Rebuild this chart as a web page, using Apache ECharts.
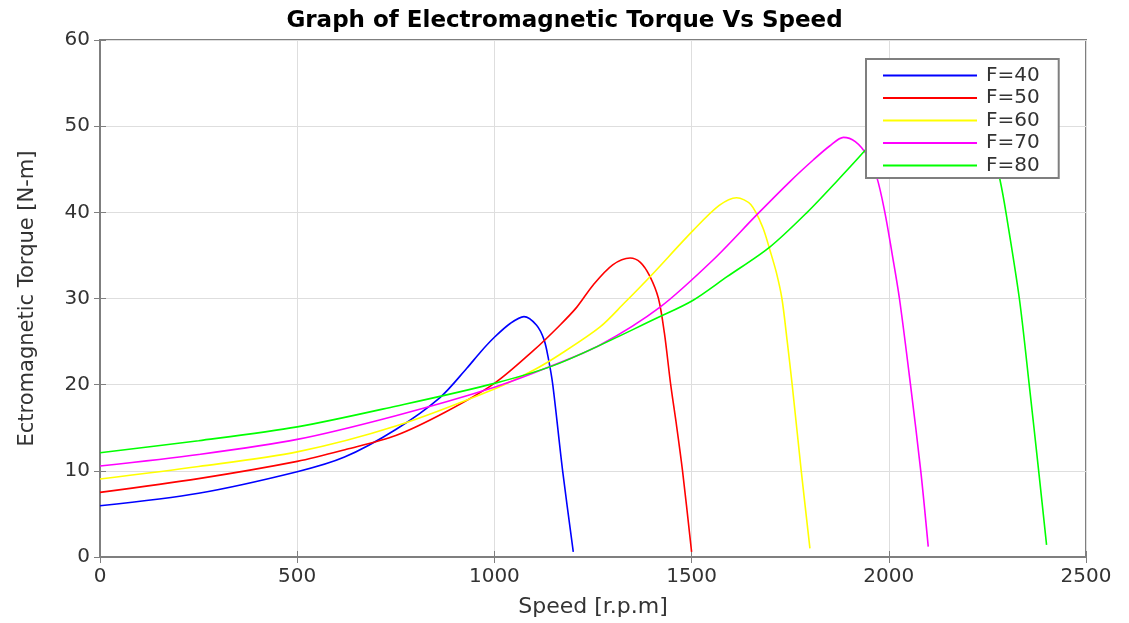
<!DOCTYPE html>
<html>
<head>
<meta charset="utf-8">
<script src="https://cdn.jsdelivr.net/npm/echarts@6/dist/echarts.min.js"></script>
<style>
  html, body { margin: 0; padding: 0; background: #fff; }
  #main { width: 1129px; height: 623px; }
</style>
</head>
<body>
<div id="main"></div>
<script>
// values (speed in r.p.m, torque in N-m)
var speed40 = [0, 250, 500, 620, 750, 862, 930, 965, 1000, 1040, 1075, 1107, 1126, 1137, 1148, 1173, 1200];
var torque40 = [5.95, 7.4, 9.9, 11.6, 14.8, 18.5, 21.9, 23.8, 25.5, 27.1, 27.9, 26.9, 25.2, 23.0, 20.0, 10.0, 0.6];

var speed50 = [0, 250, 500, 625, 750, 875, 1000, 1100, 1166, 1209, 1251, 1300, 1344, 1370, 1394, 1416, 1431, 1447, 1462, 1477, 1500];
var torque50 = [7.5, 9.1, 11.1, 12.5, 14.1, 16.8, 20.15, 24.0, 26.9, 29.0, 31.6, 33.9, 34.7, 34.2, 32.6, 30.0, 26.0, 20.0, 15.2, 10.0, 0.6];

var speed60 = [0, 250, 500, 750, 1000, 1100, 1166, 1268, 1330, 1394, 1504, 1570, 1614, 1650, 1680, 1700, 1715, 1729, 1742, 1755, 1778, 1800];
var torque60 = [9.05, 10.5, 12.2, 15.2, 19.5, 21.7, 23.5, 26.7, 29.5, 32.5, 37.9, 40.8, 41.7, 40.9, 38.3, 35.4, 33.0, 30.0, 25.2, 20.0, 10.0, 1.0];

var speed70 = [0, 250, 500, 750, 1000, 1141, 1268, 1420, 1555, 1665, 1750, 1809, 1850, 1885, 1915, 1945, 1970, 1990, 2008, 2027, 2055, 2081, 2100];
var torque70 = [10.56, 11.9, 13.65, 16.4, 19.7, 22.1, 24.6, 29.0, 34.5, 39.7, 43.6, 46.1, 47.7, 48.7, 48.2, 46.6, 44.0, 40.0, 35.3, 30.0, 20.0, 10.0, 1.2];

var speed80 = [0, 250, 500, 750, 1000, 1166, 1420, 1504, 1589, 1699, 1793, 1870, 1940, 2000, 2080, 2150, 2210, 2260, 2282, 2297, 2331, 2356, 2380, 2400];
var torque80 = [12.1, 13.5, 15.1, 17.5, 20.15, 22.5, 27.9, 29.8, 32.5, 36.0, 40.0, 43.7, 47.2, 50.5, 53.5, 55.0, 53.5, 48.0, 43.75, 40.0, 30.0, 20.0, 10.0, 1.4];

var names = ['F=40', 'F=50', 'F=60', 'F=70', 'F=80'];
var colors = ['#0000ff', '#ff0000', '#ffff00', '#ff00ff', '#00ff00'];

function pairs(xs, ys) {
    var out = [];
    for (var i = 0; i < xs.length; i++) {
        out.push([xs[i], ys[i]]);
    }
    return out;
}

var allData = [
    pairs(speed40, torque40),
    pairs(speed50, torque50),
    pairs(speed60, torque60),
    pairs(speed70, torque70),
    pairs(speed80, torque80)
];

var boxColor = '#7f7f7f';
var textColor = '#333333';
var fontFam = 'DejaVu Sans';

var series = [];
for (var k = 0; k < names.length; k++) {
    series.push({
        name: names[k],
        type: 'line',
        xAxisIndex: 0,
        yAxisIndex: 0,
        data: allData[k],
        smooth: 0.3,
        symbol: 'none',
        lineStyle: { color: colors[k], width: 1.6 },
        itemStyle: { color: colors[k] }
    });
}

function plainNum(v) {
    return String(v);
}

var chart = echarts.init(document.getElementById('main'), null, { renderer: 'canvas' });

var option = {
    backgroundColor: '#ffffff',
    animation: false,
    textStyle: { fontFamily: fontFam },
    title: {
        text: 'Graph of Electromagnetic Torque Vs Speed',
        left: 'center',
        top: 5,
        textStyle: { fontFamily: fontFam, fontSize: 23, fontWeight: 'bold', color: '#000' }
    },
    grid: {
        left: 100, right: 43, top: 40, bottom: 66,
        show: true,
        borderColor: boxColor,
        borderWidth: 2,
        backgroundColor: '#fff'
    },
    legend: {
        orient: 'vertical',
        left: 866,
        top: 59,
        data: names,
        icon: 'rect',
        itemWidth: 94,
        itemHeight: 2,
        itemGap: 1.5,
        padding: [6, 19, 2, 17],
        backgroundColor: '#fff',
        borderColor: boxColor,
        borderWidth: 2,
        borderRadius: 0,
        textStyle: { fontFamily: fontFam, fontSize: 20, lineHeight: 21, color: textColor, padding: [0, 0, 0, 4] }
    },
    xAxis: [{
        type: 'value',
        position: 'bottom',
        min: 0, max: 2500, interval: 500,
        name: 'Speed [r.p.m]',
        nameLocation: 'middle',
        nameGap: 39,
        nameTextStyle: { fontFamily: fontFam, fontSize: 22, color: textColor },
        axisLine: { show: true, lineStyle: { color: boxColor, width: 2 } },
        axisTick: { show: true, inside: true, length: 6, lineStyle: { color: boxColor } },
        axisLabel: { fontFamily: fontFam, fontSize: 20, color: textColor, margin: 10, formatter: plainNum },
        splitLine: { show: true, lineStyle: { color: '#dedede', width: 1 } }
    }, {
        type: 'value',
        position: 'top',
        min: 0, max: 2500, interval: 500,
        axisLine: { show: true, lineStyle: { color: boxColor, width: 2 } },
        axisTick: { show: true, inside: true, length: 6, lineStyle: { color: boxColor } },
        axisLabel: { show: false },
        splitLine: { show: false }
    }],
    yAxis: [{
        type: 'value',
        position: 'left',
        min: 0, max: 60, interval: 10,
        name: 'Ectromagnetic Torque [N-m]',
        nameLocation: 'middle',
        nameGap: 62,
        nameTextStyle: { fontFamily: fontFam, fontSize: 21, color: textColor },
        axisLine: { show: true, lineStyle: { color: boxColor, width: 2 } },
        axisTick: { show: true, inside: true, length: 6, lineStyle: { color: boxColor } },
        axisLabel: { fontFamily: fontFam, fontSize: 20, color: textColor, margin: 10, formatter: plainNum },
        splitLine: { show: true, lineStyle: { color: '#dedede', width: 1 } }
    }, {
        type: 'value',
        position: 'right',
        min: 0, max: 60, interval: 10,
        axisLine: { show: true, lineStyle: { color: boxColor, width: 2 } },
        axisTick: { show: true, inside: true, length: 6, lineStyle: { color: boxColor } },
        axisLabel: { show: false },
        splitLine: { show: false }
    }],
    series: series
};

chart.setOption(option);
</script>
</body>
</html>
